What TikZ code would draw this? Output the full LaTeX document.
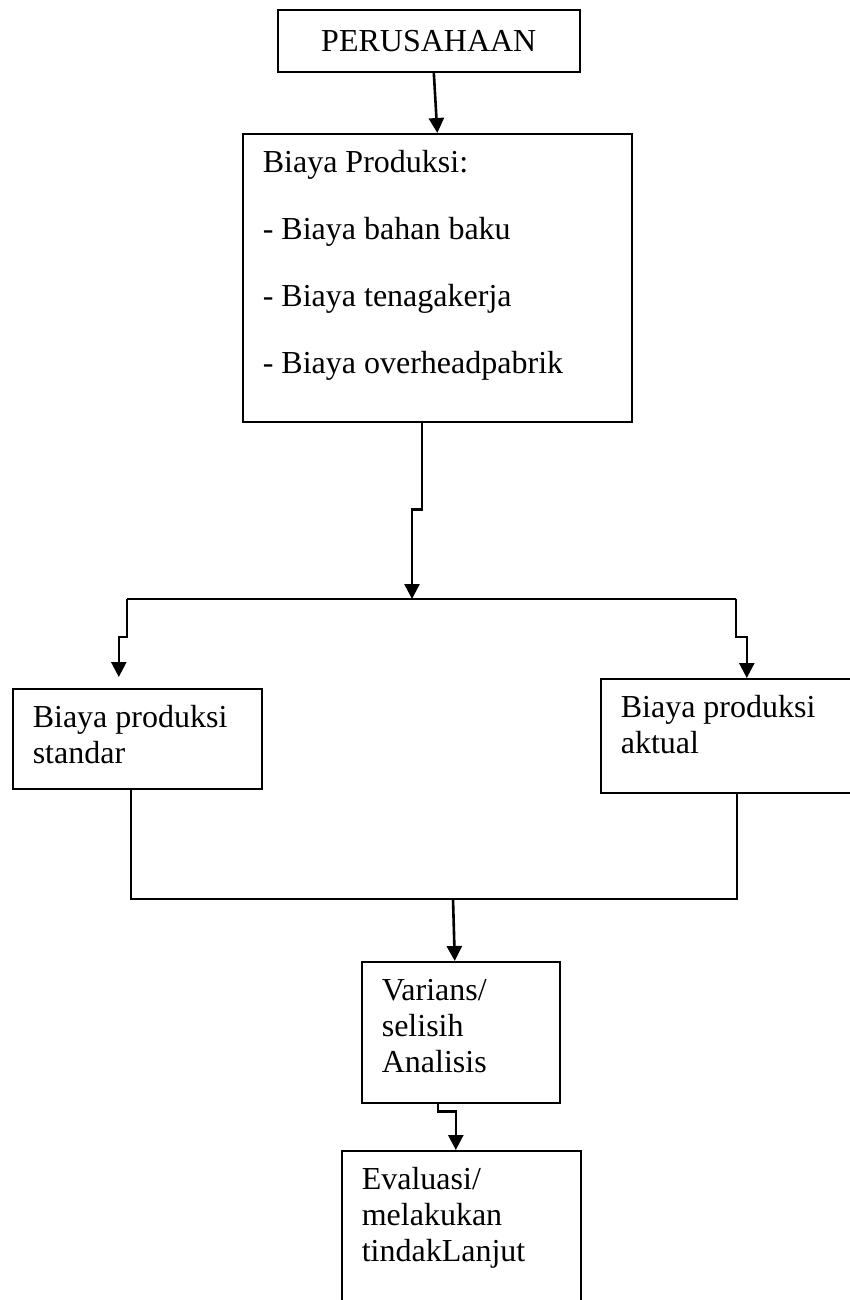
\documentclass[tikz,border=0pt]{standalone}
\usepackage{fontspec}
\setmainfont{Liberation Serif}
\usepackage{tikz}
\usetikzlibrary{arrows.meta}

% box text: width, height, lines
\newcommand{\isi}[3]{\parbox[t][#2][t]{\dimexpr#1-20pt\relax}{\rule{0pt}{19.5pt}#3}}

\begin{document}
\begin{tikzpicture}[x=0.5pt,y=-0.5pt,
  kotak/.style={draw,line width=0.8pt,anchor=north west,inner xsep=10pt,inner ysep=0pt,
    font=\fontsize{16}{18}\selectfont},
  panah/.style={line width=1.3pt},
  >={Triangle[length=7.5pt,width=7.5pt]}]
\useasboundingbox (0,0) rectangle (850,1300);

\node[kotak,inner sep=0pt,minimum width=151pt,minimum height=31pt] (P) at (277,9) {PERUSAHAAN};
  \node[kotak]         (BP) at (242,133)   {\isi{194.5pt}{144pt}{Biaya Produksi:\\[15.5pt]
    - Biaya bahan baku\\[15.5pt] - Biaya tenagakerja\\[15.5pt] - Biaya overheadpabrik}};
  \node[kotak]         (L)  at (12,688)    {\isi{124.5pt}{50pt}{Biaya produksi\\ standar}};
  \node[kotak]         (R)  at (600,678)   {\isi{140pt}{57pt}{Biaya produksi\\ aktual}};
  \node[kotak]         (V)  at (361,961)   {\isi{99pt}{70.5pt}{Varians/\\ selisih\\ Analisis}};
  \node[kotak]         (E)  at (341,1150)  {\isi{119.5pt}{85pt}{Evaluasi/\\ melakukan\\ tindakLanjut}};

  \coordinate (kiri)   at (127,599);
  \coordinate (tengah) at (412,599);
  \coordinate (kanan)  at (736,599);
  \coordinate (bawah)  at (453,899);

  \draw[panah,->] ([xshift=2.5pt]P.south) -- (BP.north);
  \draw[panah,->] ([xshift=-7.75pt]BP.south) -- ++(0,87) -| (tengah);
  \draw[line width=1pt] (kiri) -- (kanan);
  \draw[panah,->,shorten >=5.5pt] (kiri) -- ++(0,38) -| ([xshift=-9.25pt]L.north);
  \draw[panah,->] (kanan) -- ++(0,38) -| ([xshift=3pt]R.north);

  \draw[line width=1pt] ([xshift=-3.25pt]L.south) |- (bawah) -| ([xshift=-2pt]R.south);
  \draw[panah,->] (bawah) -- ([xshift=-3pt]V.north);
  \draw[panah,->] ([xshift=-11.5pt]V.south) -- ++(0,8) -| ([xshift=-2.75pt]E.north);
\end{tikzpicture}
\end{document}
